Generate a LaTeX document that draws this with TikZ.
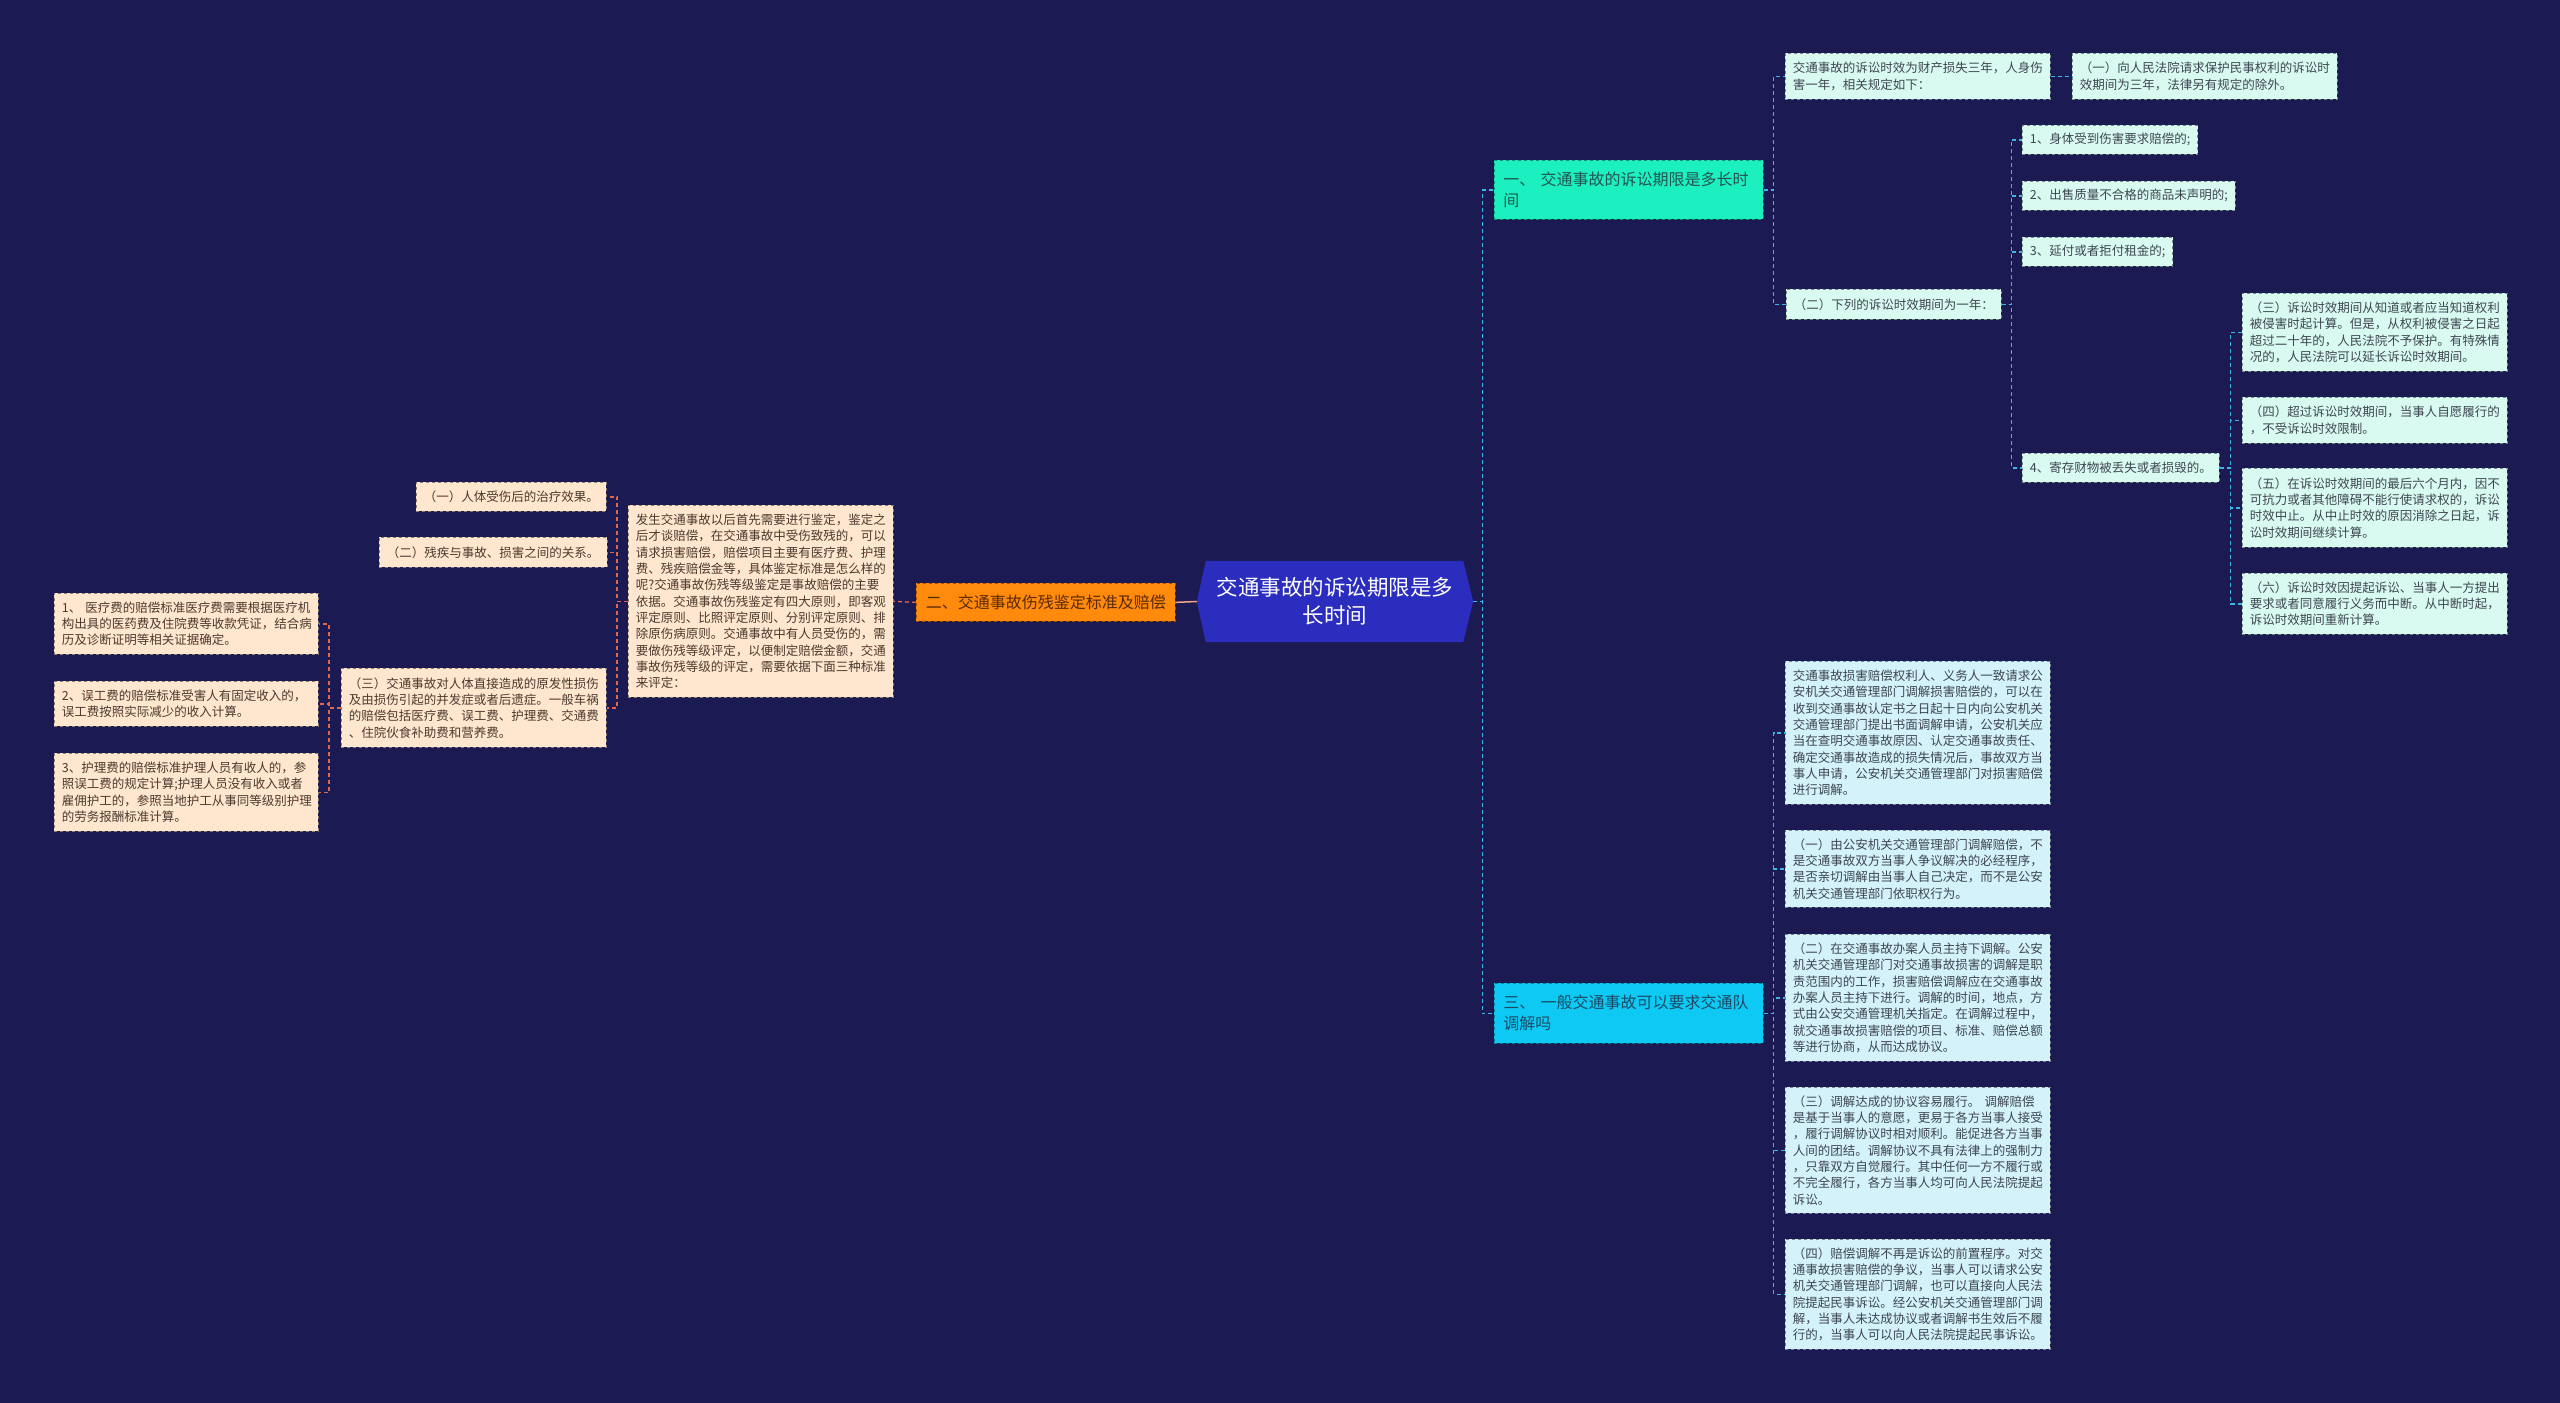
\documentclass[tikz,border=0pt]{standalone}
\usepackage{fontspec}
\setmainfont{Noto Sans CJK SC}
\usepackage{tikz}
\usetikzlibrary{backgrounds}
\definecolor{pageBg}{HTML}{1B1A52}
\definecolor{rootBlue}{HTML}{2A2DBE}
\definecolor{topicMint}{HTML}{1CEFC0}
\definecolor{topicMintText}{HTML}{24544F}
\definecolor{topicSky}{HTML}{0DC9F3}
\definecolor{topicSkyText}{HTML}{1D4A66}
\definecolor{topicOrange}{HTML}{FF8A0C}
\definecolor{topicOrangeText}{HTML}{5A2A05}
\definecolor{leafMint}{HTML}{D8FAF1}
\definecolor{leafSky}{HTML}{D3F2F9}
\definecolor{leafPeach}{HTML}{FFE6CE}
\definecolor{leafText}{HTML}{3E4650}
\definecolor{peachText}{HTML}{4A3A2E}
\definecolor{linkBlue}{HTML}{3DB5E6}
\definecolor{linkRed}{HTML}{E0674C}
\definecolor{linkPeach}{HTML}{F2A583}

\tikzset{
  leaf/.style={anchor=north west, align=left, inner xsep=7.5pt, inner ysep=3pt,
    font=\fontsize{12.5}{16.3}\selectfont, dashed, line width=0.7pt},
  mintleaf/.style={leaf, fill=leafMint, draw=leafMint!55!black, text=leafText},
  skyleaf/.style={leaf, fill=leafSky, draw=leafSky!55!black, text=leafText},
  peachleaf/.style={leaf, fill=leafPeach, draw=leafPeach!55!black, text=peachText},
  topic/.style={anchor=north west, align=left, inner xsep=9pt, inner ysep=3pt,
    font=\fontsize{16}{21}\selectfont, dashed, line width=0.7pt},
  rootbox/.style={minimum width=276pt, minimum height=81pt, align=center, inner sep=0pt,
    text=white, font=\fontsize{21.5}{28}\selectfont},
  bluelink/.style={draw=linkBlue, line width=1.3pt, dash pattern=on 4pt off 3pt},
  redlink/.style={draw=linkRed, line width=1.3pt, dash pattern=on 4pt off 3pt},
}

\begin{document}
\begin{tikzpicture}[x=1pt, y=-1pt]
  \begin{scope}[on background layer]
    \fill[pageBg] (0,0) rectangle (2560,1403);
  \end{scope}
  \useasboundingbox (0,0) rectangle (2560,1403);

  % Root
  \node[rootbox] (root) at (1335,601.5) {交通事故的诉讼期限是多\\长时间};
  \begin{scope}[on background layer]
    \fill[rootBlue] ([xshift=9pt]root.north west) -- ([xshift=-10pt]root.north east) -- (root.east)
      -- ([xshift=-10pt]root.south east) -- ([xshift=9pt]root.south west) -- (root.west) -- cycle;
  \end{scope}

  % Topics
  \node[topic, fill=topicMint, draw=topicMint!60!black, text=topicMintText, text width=251pt, minimum height=59pt] (law) at (1494,160) {一、 交通事故的诉讼期限是多长时\\间};
  \node[topic, fill=topicOrange, draw=topicOrange!60!black, text=topicOrangeText, minimum width=259pt, minimum height=38pt] (injury) at (916,583) {二、交通事故伤残鉴定标准及赔偿};
  \node[topic, fill=topicSky, draw=topicSky!60!black, text=topicSkyText, text width=251pt, minimum height=60pt] (mediate) at (1494,983) {三、 一般交通事故可以要求交通队\\调解吗};

  % First topic
  \node[mintleaf, text width=250pt, minimum height=46pt] (lawIntro) at (1785,53) {交通事故的诉讼时效为财产损失三年，人身伤\\害一年，相关规定如下：};
  \node[mintleaf, text width=250pt, minimum height=46pt] (lawFirst) at (2072,53) {（一）向人民法院请求保护民事权利的诉讼时\\效期间为三年，法律另有规定的除外。};
  \node[mintleaf, minimum width=214pt, minimum height=30pt] (lawSecond) at (1786,289) {（二）下列的诉讼时效期间为一年：};
  \node[mintleaf, minimum width=175pt, minimum height=29pt] (case1) at (2022,125) {1、身体受到伤害要求赔偿的;};
  \node[mintleaf, minimum width=213pt, minimum height=29pt] (case2) at (2022,181) {2、出售质量不合格的商品未声明的;};
  \node[mintleaf, minimum width=150pt, minimum height=29pt] (case3) at (2022,237) {3、延付或者拒付租金的;};
  \node[mintleaf, minimum width=197pt, minimum height=29pt] (case4) at (2022,453) {4、寄存财物被丢失或者损毁的。};
  \node[mintleaf, text width=250pt, minimum height=78pt] (rule3) at (2242,293) {（三）诉讼时效期间从知道或者应当知道权利\\被侵害时起计算。但是，从权利被侵害之日起\\超过二十年的，人民法院不予保护。有特殊情\\况的，人民法院可以延长诉讼时效期间。};
  \node[mintleaf, text width=250pt, minimum height=46pt] (rule4) at (2242,397) {（四）超过诉讼时效期间，当事人自愿履行的\\，不受诉讼时效限制。};
  \node[mintleaf, text width=250pt, minimum height=79pt] (rule5) at (2242,468) {（五）在诉讼时效期间的最后六个月内，因不\\可抗力或者其他障碍不能行使请求权的，诉讼\\时效中止。从中止时效的原因消除之日起，诉\\讼时效期间继续计算。};
  \node[mintleaf, text width=250pt, minimum height=61pt] (rule6) at (2242,573) {（六）诉讼时效因提起诉讼、当事人一方提出\\要求或者同意履行义务而中断。从中断时起，\\诉讼时效期间重新计算。};

  % Third topic
  \node[skyleaf, text width=250pt, minimum height=143pt] (med0) at (1785,661) {交通事故损害赔偿权利人、义务人一致请求公\\安机关交通管理部门调解损害赔偿的，可以在\\收到交通事故认定书之日起十日内向公安机关\\交通管理部门提出书面调解申请，公安机关应\\当在查明交通事故原因、认定交通事故责任、\\确定交通事故造成的损失情况后，事故双方当\\事人申请，公安机关交通管理部门对损害赔偿\\进行调解。};
  \node[skyleaf, text width=250pt, minimum height=77pt] (med1) at (1785,830) {（一）由公安机关交通管理部门调解赔偿，不\\是交通事故双方当事人争议解决的必经程序，\\是否亲切调解由当事人自己决定，而不是公安\\机关交通管理部门依职权行为。};
  \node[skyleaf, text width=250pt, minimum height=127pt] (med2) at (1785,934) {（二）在交通事故办案人员主持下调解。公安\\机关交通管理部门对交通事故损害的调解是职\\责范围内的工作，损害赔偿调解应在交通事故\\办案人员主持下进行。调解的时间，地点，方\\式由公安交通管理机关指定。在调解过程中，\\就交通事故损害赔偿的项目、标准、赔偿总额\\等进行协商，从而达成协议。};
  \node[skyleaf, text width=250pt, minimum height=126pt] (med3) at (1785,1087) {（三）调解达成的协议容易履行。 调解赔偿\\是基于当事人的意愿，更易于各方当事人接受\\，履行调解协议时相对顺利。能促进各方当事\\人间的团结。调解协议不具有法律上的强制力\\，只靠双方自觉履行。其中任何一方不履行或\\不完全履行，各方当事人均可向人民法院提起\\诉讼。};
  \node[skyleaf, text width=250pt, minimum height=110pt] (med4) at (1785,1239) {（四）赔偿调解不再是诉讼的前置程序。对交\\通事故损害赔偿的争议，当事人可以请求公安\\机关交通管理部门调解，也可以直接向人民法\\院提起民事诉讼。经公安机关交通管理部门调\\解，当事人未达成协议或者调解书生效后不履\\行的，当事人可以向人民法院提起民事诉讼。};

  % Second topic
  \node[peachleaf, text width=250pt, minimum height=192pt] (injIntro) at (628,505) {发生交通事故以后首先需要进行鉴定，鉴定之\\后才谈赔偿，在交通事故中受伤致残的，可以\\请求损害赔偿，赔偿项目主要有医疗费、护理\\费、残疾赔偿金等，具体鉴定标准是怎么样的\\呢?交通事故伤残等级鉴定是事故赔偿的主要\\依据。交通事故伤残鉴定有四大原则，即客观\\评定原则、比照评定原则、分别评定原则、排\\除原伤病原则。交通事故中有人员受伤的，需\\要做伤残等级评定，以便制定赔偿金额，交通\\事故伤残等级的评定，需要依据下面三种标准\\来评定：};
  \node[peachleaf, minimum width=190pt, minimum height=29pt] (injA) at (416,482) {（一）人体受伤后的治疗效果。};
  \node[peachleaf, minimum width=227pt, minimum height=30pt] (injB) at (379,537) {（二）残疾与事故、损害之间的关系。};
  \node[peachleaf, text width=250pt, minimum height=79pt] (injC) at (341,668) {（三）交通事故对人体直接造成的原发性损伤\\及由损伤引起的并发症或者后遗症。一般车祸\\的赔偿包括医疗费、误工费、护理费、交通费\\、住院伙食补助费和营养费。};
  \node[peachleaf, text width=249pt, minimum height=61pt] (fee1) at (54,593) {1、 医疗费的赔偿标准医疗费需要根据医疗机\\构出具的医药费及住院费等收款凭证，结合病\\历及诊断证明等相关证据确定。};
  \node[peachleaf, text width=249pt, minimum height=45pt] (fee2) at (54,681) {2、误工费的赔偿标准受害人有固定收入的，\\误工费按照实际减少的收入计算。};
  \node[peachleaf, text width=249pt, minimum height=78pt] (fee3) at (54,753) {3、护理费的赔偿标准护理人员有收人的，参\\照误工费的规定计算;护理人员没有收入或者\\雇佣护工的，参照当地护工从事同等级别护理\\的劳务报酬标准计算。};

  % Connectors, right side
  \foreach \t in {law,mediate}
    \draw[bluelink] (root.east) -- ++(9,0) |- (\t.west);
  \foreach \c in {lawIntro,lawSecond}
    \draw[bluelink] (law.east) -- ++(10,0) |- (\c.west);
  \draw[bluelink] (lawIntro.east) -- (lawFirst.west);
  \foreach \c in {case1,case2,case3,case4}
    \draw[bluelink] (lawSecond.east) -- ++(10,0) |- (\c.west);
  \foreach \c in {rule3,rule4,rule5,rule6}
    \draw[bluelink] (case4.east) -- ++(11,0) |- (\c.west);
  \foreach \c in {med0,med1,med2,med3,med4}
    \draw[bluelink] (mediate.east) -- ++(10,0) |- (\c.west);

  % Connectors, left side
  \draw[linkPeach, line width=1.5pt] (root.west) -- (injury.east);
  \draw[redlink] (injury.west) -- (injIntro.east);
  \foreach \c in {injA,injB,injC}
    \draw[redlink] (injIntro.west) -- ++(-11,0) |- (\c.east);
  \foreach \c in {fee1,fee2,fee3}
    \draw[redlink] (injC.west) -- ++(-12,0) |- (\c.east);
\end{tikzpicture}
\end{document}
